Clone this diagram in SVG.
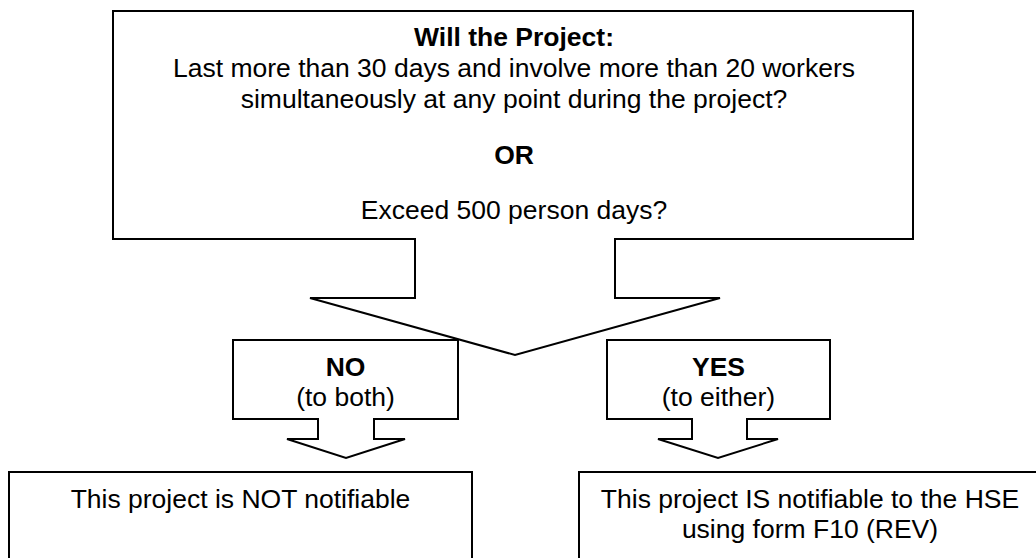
<svg xmlns="http://www.w3.org/2000/svg" width="1036" height="558" viewBox="0 0 1036 558">
<style>
.shape{fill:#fff;stroke:#000;stroke-width:2;stroke-linejoin:miter}
text{font-family:"Liberation Sans",Arial,sans-serif;font-size:26.5px;fill:#000;text-anchor:middle}
.b{font-weight:bold}
</style>
<rect width="1036" height="558" fill="#fff"/>
<g id="question">
<polygon class="shape" points="113,11 913,11 913,239 615,239 615,298 720,298 515,355 310,298 415,298 415,239 113,239"/>
<text class="b" x="514" y="46">Will the Project:</text>
<text x="514" y="77">Last more than 30 days and involve more than 20 workers</text>
<text x="514" y="107.5">simultaneously at any point during the project?</text>
<text class="b" x="514" y="163.5">OR</text>
<text x="514" y="218.5">Exceed 500 person days?</text>
</g>
<g id="no">
<polygon class="shape" points="233,340 458,340 458,419 374,419 374,439 405,439 346,458 287,439 318,439 318,419 233,419"/>
<text class="b" x="345.5" y="376">NO</text>
<text x="345.5" y="405.5">(to both)</text>
</g>
<g id="yes">
<polygon class="shape" points="607,340 830,340 830,419 747,419 747,439 778,439 718,458 658,439 692,439 692,419 607,419"/>
<text class="b" x="718.5" y="376">YES</text>
<text x="718.5" y="405.5">(to either)</text>
</g>
<g id="not-notifiable">
<rect class="shape" x="9" y="472" width="463" height="120"/>
<text x="240.5" y="507.5">This project is NOT notifiable</text>
</g>
<g id="notifiable">
<rect class="shape" x="579" y="472" width="480" height="120"/>
<text x="810" y="508">This project IS notifiable to the HSE</text>
<text x="810" y="538">using form F10 (REV)</text>
</g>
<g id="connectors"></g>
</svg>
